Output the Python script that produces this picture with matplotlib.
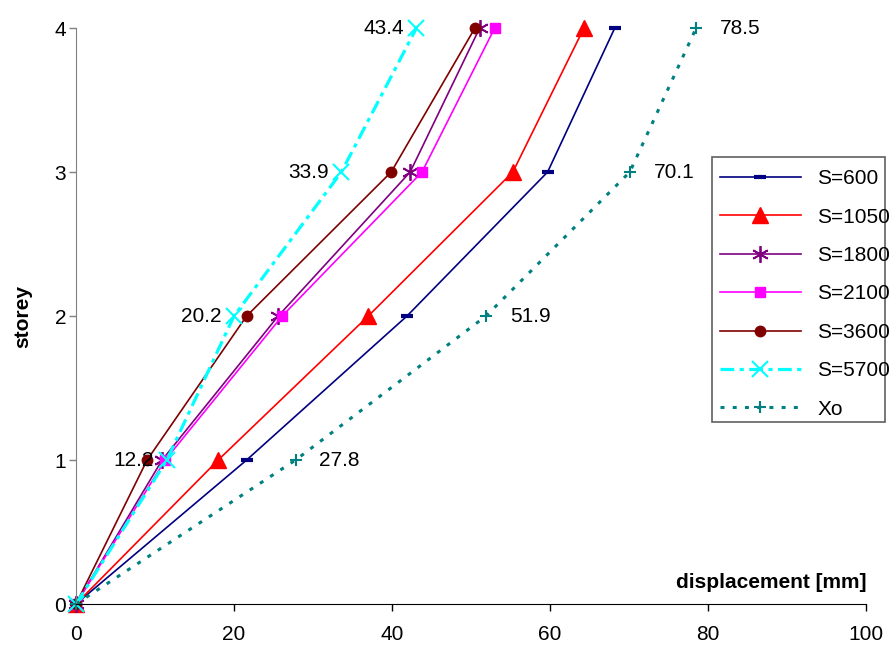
import matplotlib
matplotlib.use('Agg')
import matplotlib.pyplot as plt
from matplotlib.patches import Rectangle

plt.rcParams['font.family'] = ['Liberation Sans', 'DejaVu Sans']

#-------------------------------------------Data-------------------------------------------#
storeys = [0, 1, 2, 3, 4]
s600 = [0, 21.6, 41.9, 59.7, 68.2]
s1050 = [0, 18.0, 37.0, 55.3, 64.3]
s1800 = [0, 10.9, 25.6, 42.3, 51.1]
s2100 = [0, 11.3, 26.1, 43.8, 53.0]
s3600 = [0, 9.0, 21.6, 39.9, 50.5]
s5700 = [0, 11.5, 20.0, 33.6, 43.1]
s5700_labels = ['', '12.2', '20.2', '33.9', '43.4']
xo = [0, 27.8, 51.9, 70.1, 78.5]
xo_labels = ['', '27.8', '51.9', '70.1', '78.5']

#-------------------------------------------Plot-------------------------------------------#
W, H = 896, 647
fig = plt.figure(figsize=(W/100, H/100), dpi=100)
ax = fig.add_axes([76/W, 1-604/H, (866-76)/W, (604-28)/H])

ax.plot(s600, storeys, color='#000080', lw=1.2, marker='_', ms=8, mew=3, label='S=600')
ax.plot(s1050, storeys, color='#FF0000', lw=1.2, marker='^', ms=12, label='S=1050')
ax.plot(s1800, storeys, color='#800080', lw=1.2, marker=(6, 2, 0), ms=12, mew=1.3, label='S=1800')
ax.plot(s2100, storeys, color='#FF00FF', lw=1.2, marker='s', ms=7.5, label='S=2100')
ax.plot(s3600, storeys, color='#800000', lw=1.2, marker='o', ms=7.5, label='S=3600')
ax.plot(s5700, storeys, color='#00FFFF', lw=2.3, ls=(0, (4.3, 1.7, 1.3, 1.7)), marker='x', ms=12, mew=1.5, label='S=5700')
ax.plot(xo, storeys, color='#008080', lw=2.2, ls=(0, (1.3, 2.7)), marker='+', ms=8, mew=1.5, label='Xo')

# value labels
fs = 15
for x, y, t in zip(s5700, storeys, s5700_labels):
    if t:
        ax.text(x - 1.6, y, t, ha='right', va='center', fontsize=fs)
for x, y, t in zip(xo, storeys, xo_labels):
    if t:
        ax.text(x + 3.0, y, t, ha='left', va='center', fontsize=fs)

ax.set_xlim(0, 100)
ax.set_ylim(0, 4)
ax.set_xticks([0, 20, 40, 60, 80, 100])
ax.set_yticks([0, 1, 2, 3, 4])
ax.tick_params(labelsize=fs, length=5, width=1)
ax.tick_params(axis='y', pad=2, color='#808080')
ax.tick_params(axis='x', pad=10)
for s in ['top', 'right']:
    ax.spines[s].set_visible(False)
ax.spines['left'].set_color('#808080')
ax.spines['bottom'].set_color('black')
for ln in ax.get_lines():
    ln.set_clip_on(False)

ax.set_ylabel('storey', fontsize=fs, fontweight='bold', labelpad=16)
ax.text(1.0, (604-582)/576, 'displacement [mm]', transform=ax.transAxes, ha='right', va='center',
        fontsize=fs, fontweight='bold')

# legend frame drawn separately, text runs past it like in the original
fig.patches.append(Rectangle((712/W, 1-422/H), (885-712)/W, (422-157)/H, transform=fig.transFigure,
                             facecolor='white', edgecolor='#606060', lw=1.2, zorder=2))
leg = fig.legend(loc='upper left', bbox_to_anchor=(712/W, 1-161/H), borderaxespad=0,
                 fontsize=fs, handlelength=3.85, labelspacing=0.93, frameon=False,
                 borderpad=0.4, handletextpad=0.8)

fig.savefig('out.png', dpi=100)
